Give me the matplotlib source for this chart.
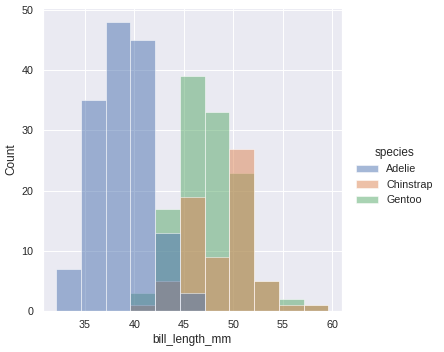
import numpy as np
import matplotlib
matplotlib.use("Agg")
import matplotlib.pyplot as plt
import seaborn as sns

# bin edges (11 bins of 2.5 mm from 32.1 to 59.6)
bin_start = 32.1
bin_width = 2.5
n_bins = 11

species = ["Adelie", "Chinstrap", "Gentoo"]
adelie = [7, 35, 48, 45, 13, 3, 0, 0, 0, 0, 0]
chinstrap = [0, 0, 0, 1, 5, 19, 9, 27, 5, 1, 1]
gentoo = [0, 0, 0, 3, 17, 39, 33, 23, 5, 2, 1]
counts = {"Adelie": adelie, "Chinstrap": chinstrap, "Gentoo": gentoo}
colors = {"Adelie": "#4C72B0", "Chinstrap": "#DD8452", "Gentoo": "#55A868"}

sns.set_theme()
plt.rcParams["font.family"] = ["Liberation Sans", "DejaVu Sans"]

fig = plt.figure(figsize=(6.31, 5), dpi=70.4)
ax = fig.add_axes([0.096, 0.1165, 0.674, 0.8615])

lefts = bin_start + bin_width * np.arange(n_bins)
handles = []
# last hue is drawn first, so Adelie ends up on top
for sp in species[::-1]:
    ax.bar(lefts, counts[sp], width=bin_width, align="edge",
           color=colors[sp], alpha=0.5, edgecolor="white", linewidth=1)
for sp in species:
    handles.append(plt.Rectangle((0, 0), 1, 1, facecolor=colors[sp],
                                 alpha=0.5, edgecolor="white", linewidth=1))

ax.set_xlabel("bill_length_mm")
ax.set_ylabel("Count")
ax.set_xticks([35, 40, 45, 50, 55, 60])
ax.set_yticks([0, 10, 20, 30, 40, 50])

fig.legend(handles, species, title="species", loc="center left",
           bbox_to_anchor=(0.78, 0.5), frameon=False)

fig.savefig("out.png", dpi=70.4)
